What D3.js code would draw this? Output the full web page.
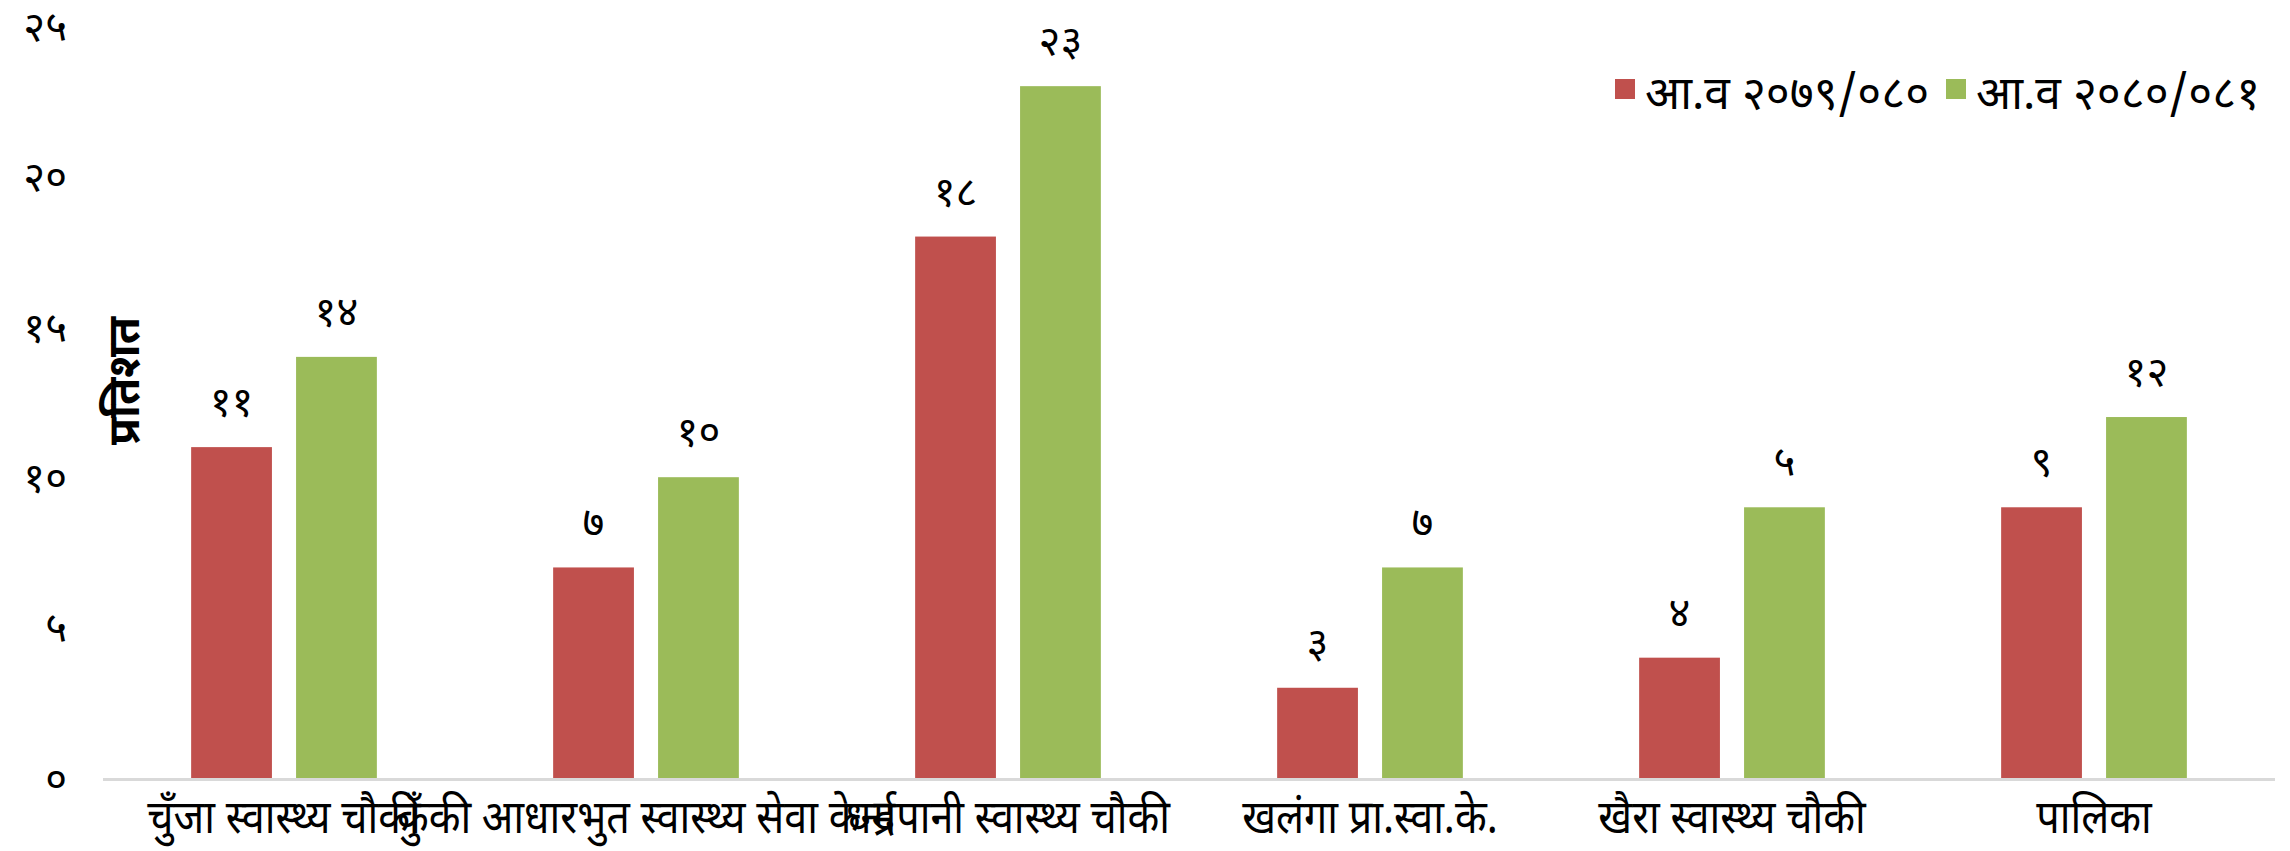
<!DOCTYPE html>
<html>
<head>
<meta charset="utf-8">
<script src="https://cdn.jsdelivr.net/npm/d3@7"></script>
<style>
  body { margin: 0; background: #fff; }
  text { font-family: "Noto Sans Devanagari", "Noto Sans", sans-serif; fill: #000; }
</style>
</head>
<body>
<div id="chart"></div>
<script>
// data
const categories = ["चुँजा स्वास्थ्य चौकी", "कुँकी आधारभुत स्वास्थ्य सेवा केन्द्र", "धर्मपानी स्वास्थ्य चौकी",
  "खलंगा प्रा.स्वा.के.", "खैरा स्वास्थ्य चौकी", "पालिका"];
const seriesNames = ["आ.व २०७९/०८०", "आ.व २०८०/०८१"];
const values2079 = [11, 7, 18, 3, 4, 9];
const values2080 = [14, 10, 23, 7, 9, 12];
// labels as printed on the bars (one differs from its bar)
const labels2079 = ["११", "७", "१८", "३", "४", "९"];
const labels2080 = ["१४", "१०", "२३", "७", "५", "१२"];
const yTicks = [0, 5, 10, 15, 20, 25];
const yTickLabels = ["०", "५", "१०", "१५", "२०", "२५"];

const width = 2290, height = 851;
const margin = {top: 26, right: 15, bottom: 73, left: 103};
const colors = ["#C0504D", "#9BBB59"];

const svg = d3.select("#chart").append("svg")
  .attr("width", width)
  .attr("height", height);

const x0 = d3.scaleBand()
  .domain(categories)
  .range([margin.left, width - margin.right]);

const x1 = d3.scaleBand()
  .domain(seriesNames)
  .range([0, x0.bandwidth()])
  .paddingInner(0.23)
  .paddingOuter(0.84);

const y = d3.scaleLinear()
  .domain([0, 25])
  .range([height - margin.bottom, margin.top]);

// y tick labels (no axis line)
svg.append("g")
  .selectAll("text")
  .data(yTicks)
  .join("text")
  .attr("x", 67)
  .attr("y", d => y(d))
  .attr("dy", "0.35em")
  .attr("text-anchor", "end")
  .style("font-size", "42px")
  .text((d, i) => yTickLabels[i]);

const rows = categories.map((c, i) => ({
  cat: c,
  bars: [
    {s: seriesNames[0], v: values2079[i], lab: labels2079[i]},
    {s: seriesNames[1], v: values2080[i], lab: labels2080[i]}
  ]
}));

const groups = svg.append("g")
  .selectAll("g")
  .data(rows)
  .join("g")
  .attr("transform", d => "translate(" + x0(d.cat) + ",0)");

groups.selectAll("rect")
  .data(d => d.bars)
  .join("rect")
  .attr("x", d => x1(d.s))
  .attr("y", d => y(d.v))
  .attr("width", x1.bandwidth())
  .attr("height", d => y(0) - y(d.v))
  .attr("fill", (d, i) => colors[i]);

groups.selectAll("text.val")
  .data(d => d.bars)
  .join("text")
  .attr("class", "val")
  .attr("x", d => x1(d.s) + x1.bandwidth() / 2)
  .attr("y", d => y(d.v) - 31)
  .attr("text-anchor", "middle")
  .style("font-size", "42px")
  .text(d => d.lab);

// x axis line
svg.append("line")
  .attr("x1", margin.left)
  .attr("x2", width - margin.right)
  .attr("y1", y(0) + 1.5)
  .attr("y2", y(0) + 1.5)
  .attr("stroke", "#d9d9d9")
  .attr("stroke-width", 3);

// category labels, slightly condensed like the original font
svg.append("g")
  .selectAll("text")
  .data(categories)
  .join("text")
  .attr("transform", d => "translate(" + (x0(d) + x0.bandwidth() / 2) + ",833) scale(0.88,1)")
  .attr("text-anchor", "middle")
  .style("font-size", "47px")
  .text(d => d);

// y axis title
svg.append("text")
  .attr("transform", "translate(139,381) rotate(-90)")
  .attr("text-anchor", "middle")
  .style("font-size", "44px")
  .style("font-weight", "bold")
  .text("प्रतिशत");

// legend
const legend = svg.append("g").attr("transform", "translate(1615,0)");
const legendX = [0, 331];
seriesNames.forEach((s, i) => {
  legend.append("rect")
    .attr("x", legendX[i])
    .attr("y", 79)
    .attr("width", 20)
    .attr("height", 20)
    .attr("fill", colors[i]);
  legend.append("text")
    .attr("x", legendX[i] + 30)
    .attr("y", 109)
    .style("font-size", "46px")
    .text(s);
});
</script>
</body>
</html>
